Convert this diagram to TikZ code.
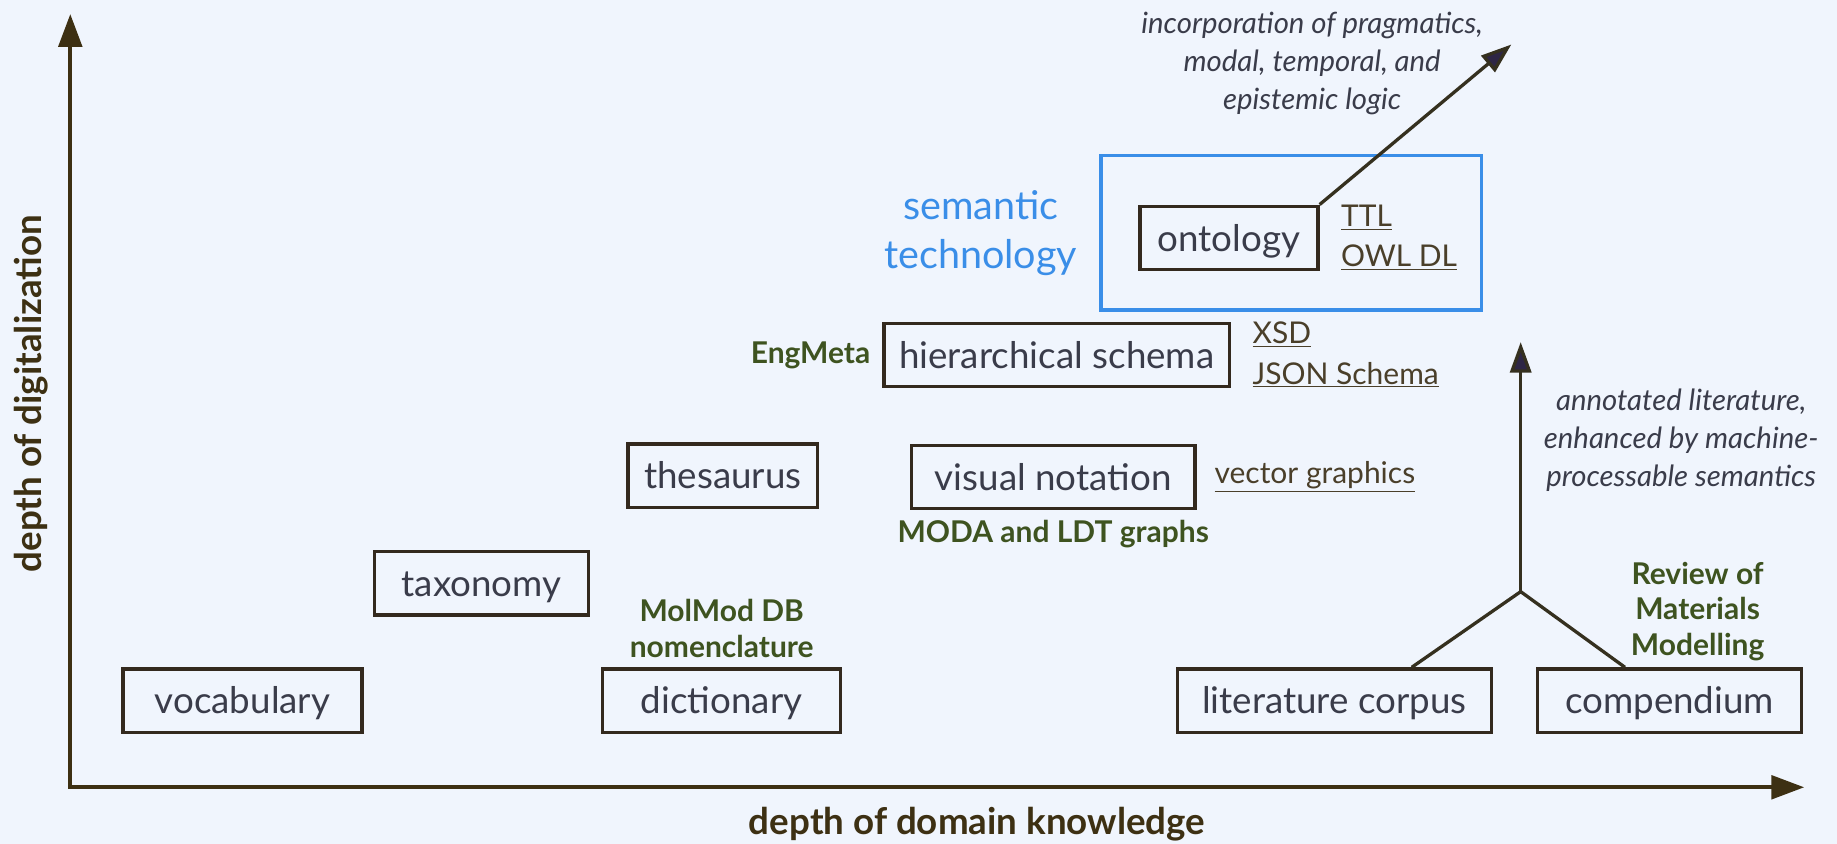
\documentclass[tikz,border=0pt]{standalone}
\usepackage{fontspec}
\setmainfont{Lato}
\usetikzlibrary{arrows.meta, positioning, calc}

\definecolor{bgblue}{HTML}{F0F5FD}
\definecolor{boxline}{HTML}{33291E}
\definecolor{boxtext}{HTML}{3A3C4A}
\definecolor{axisbrown}{HTML}{3D3013}
\definecolor{linebrown}{HTML}{35301F}
\definecolor{headpurple}{HTML}{2E2645}
\definecolor{exgreen}{HTML}{3E5320}
\definecolor{linktext}{HTML}{4A3F2A}
\definecolor{techblue}{HTML}{3A8EE8}

\begin{document}
\begin{tikzpicture}[
    % Node styles
    concept/.style={
        rectangle,
        draw=boxline,
        line width=2pt,
        fill=bgblue,
        minimum height=1.35cm,
        text height=20.5pt,
        text depth=4.5pt,
        align=center,
        text=boxtext,
        font=\fontsize{22.3}{26}\selectfont
    },
    format/.style={
        align=left,
        inner sep=0pt,
        text=linktext,
        font=\fontsize{18.2}{24.5}\selectfont
    },
    example/.style={
        align=center,
        inner sep=0pt,
        text=exgreen,
        font=\bfseries\fontsize{18.2}{21.5}\selectfont
    },
    note/.style={
        align=center,
        inner sep=0pt,
        text=boxtext,
        font=\itshape\fontsize{17.8}{23}\selectfont
    },
    techlabel/.style={
        align=center,
        inner sep=0pt,
        text=techblue,
        font=\fontsize{24}{30}\selectfont
    },
    axislabel/.style={
        inner sep=0pt,
        anchor=base,
        text=axisbrown,
        font=\bfseries\fontsize{22.3}{27}\selectfont
    },
    axis/.style={
        {Triangle[length=0.7cm, width=0.5cm]}-{Triangle[length=0.7cm, width=0.5cm]},
        line width=2.4pt,
        draw=axisbrown
    },
    arrow/.style={
        -{Triangle[length=0.65cm, width=0.45cm, fill=headpurple]},
        line width=2pt,
        draw=linebrown
    },
    link/.style={
        line width=2pt,
        draw=linebrown
    },
    techbox/.style={
        draw=techblue,
        line width=2.2pt
    }
]

% --- Canvas ---
\fill[bgblue] (0,0) rectangle (39.2,18);
\useasboundingbox (0,0) rectangle (39.2,18);

% --- Axes ---
\coordinate (origin) at (1.5,1.2);
\coordinate (ytop) at (1.5,17.7);
\coordinate (xend) at (38.5,1.2);
\draw[axis] (ytop) -- (origin) -- (xend);
\node[axislabel, rotate=90] (ylabel) at (0.89,9.6) {depth of digitalization};
\node[axislabel] (xlabel) at (20.85,0.2) {depth of domain knowledge};

% --- Concepts (bottom to top) ---
\node[concept, minimum width=5.1cm] (vocabulary) at (5.175,3.05) {vocabulary};
\node[concept, minimum width=4.575cm] (taxonomy) at (10.275,5.55) {taxonomy};
\node[concept, minimum width=5.075cm] (dictionary) at (15.4,3.05) {dictionary};
\node[concept, minimum width=4.05cm] (thesaurus) at (15.425,7.85) {thesaurus};
\node[concept, minimum width=6.05cm] (visnotation) at (22.475,7.825) {visual notation};
\node[concept, minimum width=7.375cm] (hierschema) at (22.55,10.425) {hierarchical schema};
\node[concept, minimum width=3.8cm] (ontology) at (26.225,12.925) {ontology};
\node[concept, minimum width=6.7cm] (litcorpus) at (28.475,3.05) {literature corpus};
\node[concept, minimum width=5.625cm] (compendium) at (35.625,3.05) {compendium};

% --- Formats ---
\node[format, right=0.45cm of ontology] (ontoformats) {\underline{TTL}\\\underline{OWL DL}};
\node[format, right=0.45cm of hierschema] (schemaformats) {\underline{XSD}\\\underline{JSON Schema}};
\node[format, right=0.375cm of visnotation] (visformats) {\underline{vector graphics}};

% --- Examples ---
\node[example, left=0.25cm of hierschema] (engmeta) {EngMeta};
\node[example, below=0.2cm of visnotation] (moda) {MODA and LDT graphs};
\node[example, above=0.2cm of dictionary] (molmod) {MolMod DB\\nomenclature};
\node[example] (review) at (36.225,4.95) {Review of\\Materials\\Modelling};

% --- Semantic technology ---
\draw[techbox] ($(ontology.north west)+(-0.8,1.05)$) rectangle ($(ontology.south east)+(3.45,-0.825)$);
\node[techlabel] (semtech) at (20.925,13.025) {semantic\\technology};

% --- Outlook arrows ---
\coordinate (beyond) at (32.25,17.05);
\draw[arrow] (ontology.north east) -- (beyond);
\node[note] (logicnote) at (28,16.65) {incorporation of pragmatics,\\modal, temporal, and\\epistemic logic};

\coordinate (merge) at (32.45,5.375);
\coordinate (lifted) at (32.45,10.7);
\draw[link] ($(litcorpus.north)+(1.65,0)$) -- (merge) -- ($(compendium.north)+(-0.95,0)$);
\draw[arrow] (merge) -- (lifted);
\node[note] (litnote) at (35.875,8.6) {annotated literature,\\enhanced by machine-\\processable semantics};

\end{tikzpicture}
\end{document}
